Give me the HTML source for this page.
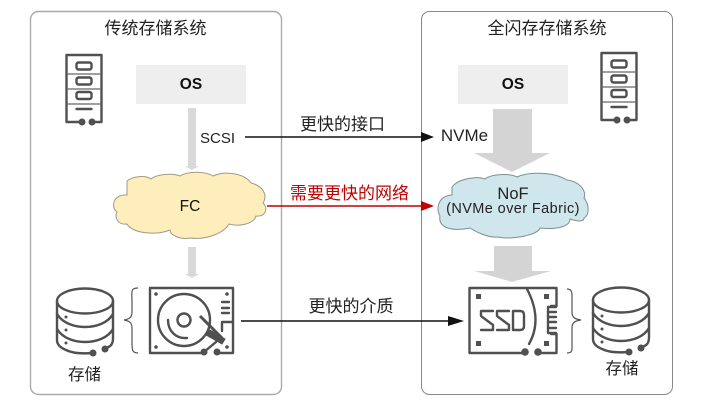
<!DOCTYPE html>
<html><head><meta charset="utf-8"><style>
html,body{margin:0;padding:0;background:#fff}
svg{display:block;filter:blur(.25px)}
text{font-family:"Liberation Sans","Noto Sans CJK SC",sans-serif;fill:#222}
.i{fill:none;stroke:#505050;stroke-width:2.4;stroke-linecap:round;stroke-linejoin:round}
.t{fill:none;stroke:#666;stroke-width:1.200}
.f{fill:#505050;stroke:none}
</style></head><body>
<svg width="720" height="405" viewBox="0 0 720 405" xmlns="http://www.w3.org/2000/svg">
<defs>
<g id="srv">
 <path class="i" d="M16 68H1V1H36V68H26"/>
 <path class="t" d="M1 20H36M1 35H36M1 50H36"/>
 <rect class="i" x="11" y="8.500" width="15" height="7" rx="2"/>
 <rect class="i" x="11" y="23.500" width="15" height="7" rx="2"/>
 <rect class="i" x="11" y="38" width="15" height="7" rx="2"/>
 <path class="i" d="M11 55H26"/>
 <circle class="f" cx="16.500" cy="68" r="3.500"/><circle class="f" cx="26.500" cy="68" r="3.500"/>
</g>
<g id="db">
 <ellipse class="i" cx="29" cy="13" rx="28" ry="12.500"/>
 <path class="i" d="M1 13V52C1 57 5 60 10 62C16 65 25 66 37 65"/>
 <path class="i" d="M57 13V50C57 56 55 59 49 60"/>
 <path class="i" d="M1 26C7 36 20 39 29 39C40 39 52 35 57 26"/>
 <path class="i" d="M1 41C7 51 20 54 29 54C40 54 52 50 57 41"/>
 <circle class="f" cx="37" cy="65" r="3.500"/><circle class="f" cx="49" cy="61" r="3.500"/>
 <circle class="f" cx="10" cy="29" r="1.500"/><circle class="f" cx="10" cy="42" r="1.500"/><circle class="f" cx="10" cy="55" r="1.500"/>
</g>
</defs>

<rect x="30.500" y="11.500" width="251" height="383" rx="8" fill="#fff" stroke="#aaa" stroke-width="1.400"/>
<rect x="421.500" y="11.500" width="251" height="383" rx="8" fill="#fff" stroke="#888" stroke-width="1"/>

<text x="155.500" y="34" font-size="17" text-anchor="middle">传统存储系统</text>
<text x="547" y="34" font-size="17" text-anchor="middle">全闪存存储系统</text>

<rect x="136" y="65" width="110" height="39" fill="#eee"/>
<rect x="458" y="65" width="110" height="39" fill="#eee"/>
<text x="191" y="89" font-size="15.500" font-weight="bold" text-anchor="middle" style="fill:#111">OS</text>
<text x="513" y="89" font-size="15.500" font-weight="bold" text-anchor="middle" style="fill:#111">OS</text>

<use href="#srv" x="65.500" y="54"/>
<use href="#srv" x="600.500" y="52"/>

<path d="M188 108H196V166H199L192 170L185 166H188Z" fill="#d9d9d9"/>
<path d="M188 247H196V274H199L192 278L185 274H188Z" fill="#d9d9d9"/>
<path d="M493 109H532V153H550L512 172L474 153H493Z" fill="#d4d4d4"/>
<path d="M494 246H532V271H551L512 282L474 271H494Z" fill="#d4d4d4"/>

<text x="217.500" y="143" font-size="15" text-anchor="middle">SCSI</text>
<text x="464.500" y="141" font-size="17" text-anchor="middle">NVMe</text>

<path d="M245 137H424" stroke="#111" stroke-width="1.500"/>
<path d="M421 132L434 137L421 142Z" fill="#111"/>
<text x="342.500" y="130" font-size="17" text-anchor="middle">更快的接口</text>

<path d="M267 206H424" stroke="#c00000" stroke-width="1.500"/>
<path d="M421 201L434 206L421 211Z" fill="#c00000"/>
<text x="349.500" y="199" font-size="17" text-anchor="middle" style="fill:#c00000">需要更快的网络</text>

<path d="M241 321H452" stroke="#111" stroke-width="1.500"/>
<path d="M448 316L464 321L448 326Z" fill="#111"/>
<text x="351" y="312" font-size="17" text-anchor="middle">更快的介质</text>

<path d="M127 181C133 176 146 175 151 179C157 174 172 173 180 176C188 171 205 171 213 176C226 170 245 174 251 183C263 186 268 195 263 203C269 209 265 217 256 216C254 224 239 227 229 224C223 234 205 240 190 238C180 240 170 235 170 230C155 236 132 233 127 224C118 225 114 218 117 212C111 208 112 194 127 195Z" fill="#feeebb" stroke="#a09a86" stroke-width="1"/>
<text x="190" y="211" font-size="15.500" text-anchor="middle" style="fill:#111">FC</text>

<path d="M452 187C459 178 478 176 485 179C491 174 510 173 517 177C527 172 552 171 567 180C578 181 587 190 584 198C589 204 590 215 584 218C584 224 570 219 570 219C570 226 558 230 540 228C538 235 512 240 498 237C488 238 476 232 470 228C450 232 438 227 440 216C436 210 437 196 452 195Z" fill="#cfe7ec" stroke="#7f8f92" stroke-width="1"/>
<text x="513" y="199" font-size="16.500" text-anchor="middle">NoF</text>
<text x="513" y="213" font-size="14.500" text-anchor="middle" letter-spacing=".4">(NVMe over Fabric)</text>

<use href="#db" x="56" y="288"/>
<use href="#db" x="592" y="287"/>
<text x="84.500" y="380" font-size="16.500" text-anchor="middle">存储</text>
<text x="622" y="374" font-size="16.500" text-anchor="middle">存储</text>

<path d="M138 288C130 288 132 292 132 302V312C132 317 130 319 124 320C130 321 132 323 132 328V342C132 350 132 353 138 353" fill="none" stroke="#555" stroke-width="1.200"/>
<path d="M567 289C573 289 572 294 572 302V312C572 317 574 319 581 320C574 321 572 323 572 328V342C572 350 573 353 567 353" fill="none" stroke="#555" stroke-width="1.200"/>

<!-- HDD -->
<path class="i" d="M203 353H150V288H233V353H217M233 322H222V331"/>
<circle class="i" cx="184" cy="320" r="26"/>
<circle class="i" cx="184" cy="320" r="6.500"/>
<path class="i" d="M168 320C168 331 176 339 187 338" stroke-width="2.800"/>
<path d="M200 316L222 338" stroke="#505050" stroke-width="3"/>
<path d="M210 330L225 339L222 344L206 335Z" fill="#505050" stroke="#505050"/>
<path class="i" d="M204 352L216 342"/>
<path class="i" d="M222 302H229M222 308H229M222 313H229"/>
<circle class="f" cx="156" cy="294" r="1.800"/><circle class="f" cx="227" cy="294" r="1.800"/><circle class="f" cx="156" cy="347" r="1.800"/><circle class="f" cx="227" cy="347" r="1.800"/>
<circle class="f" cx="204" cy="352" r="3.500"/><circle class="f" cx="217" cy="352" r="3.500"/>

<!-- SSD -->
<path class="i" d="M525 353H469.500V288H556.500V306H551M551 334H556.500V353H538"/>
<path class="i" d="M527 289C538 310 538 328 529 344"/>
<path class="i" d="M493 311H481V316L493 325V330H481M509 311H497V316L509 325V330H497M513 311H520Q524 311 524 315V326Q524 330 520 330H513Z" stroke-width="2.400"/>
<path class="i" d="M548 307V333M548 307H556M548 312H556M548 317H556M548 322H556M548 328H556M548 333H556"/>
<rect class="f" x="476" y="294" width="5" height="5"/><rect class="f" x="544" y="294" width="5" height="5"/><rect class="f" x="476" y="341" width="5" height="5"/><rect class="f" x="544" y="341" width="5" height="5"/>
<circle class="f" cx="525" cy="352" r="3.800"/><circle class="f" cx="538" cy="352" r="3.800"/>
</svg>
</body></html>
